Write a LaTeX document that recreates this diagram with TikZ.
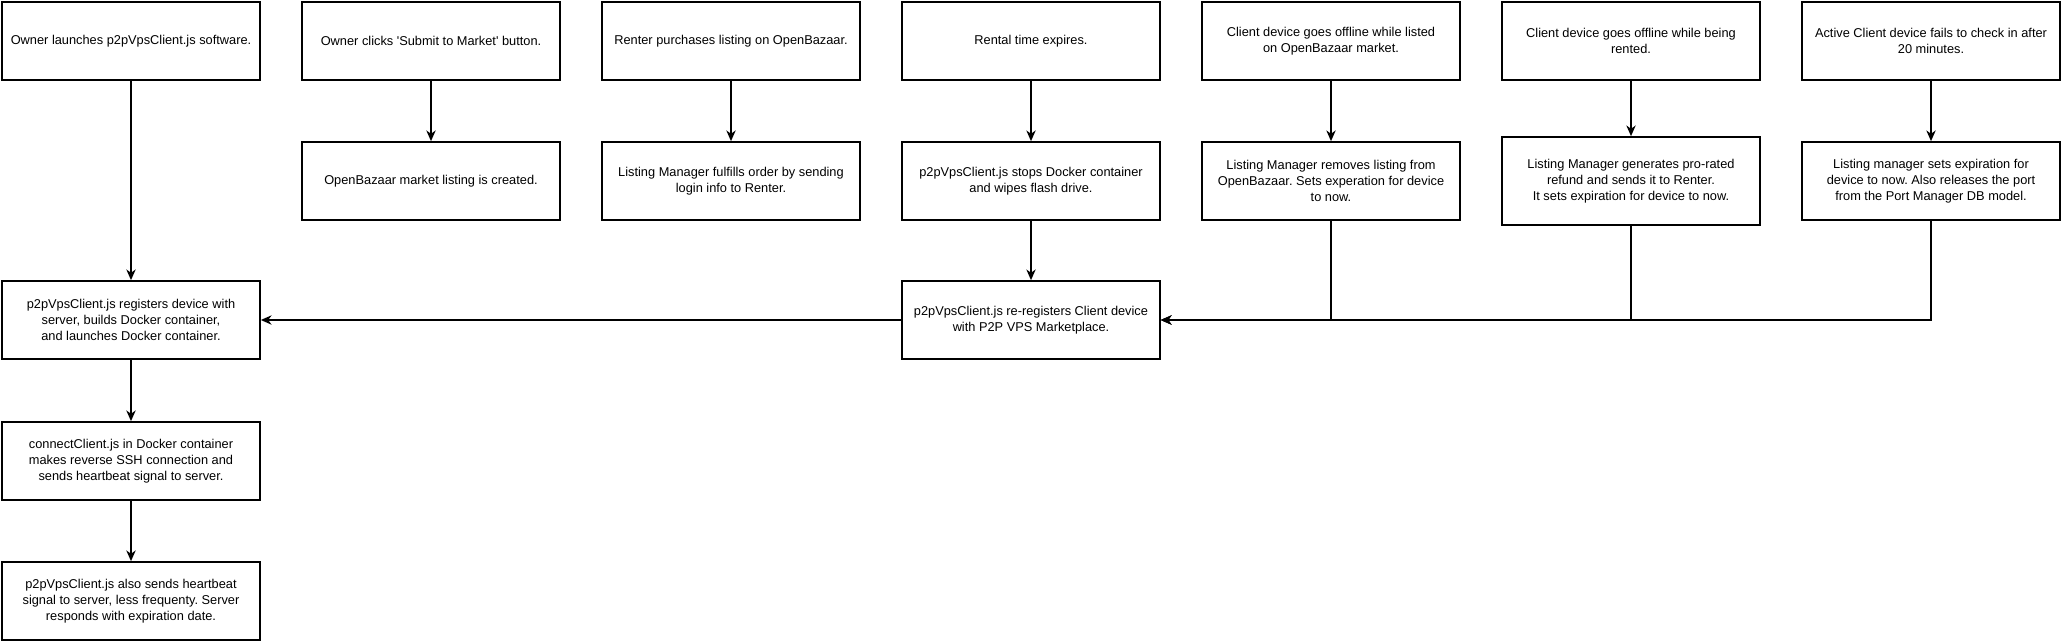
\documentclass[tikz,border=0pt]{standalone}
\usepackage{fontspec}
\setmainfont{Liberation Sans}
\usetikzlibrary{arrows.meta}
\frenchspacing

\begin{document}
\begin{tikzpicture}[x=0.75pt, y=-0.75pt,
	box/.style={draw, line width=1.3pt, minimum width=193.5pt, minimum height=58.5pt, align=center, inner sep=2pt, font=\fontsize{9.6}{12.2}\selectfont},
	flow/.style={-{Stealth[length=8pt, width=7pt, inset=2.5pt]}, line width=1.1pt}]
				\useasboundingbox (0,0) rectangle (2063,643);
				
				% top row
				\node [box] (launch) at (131,41) {Owner launches p2pVpsClient.js software.};
				\node [box] (submit) at (431,41) {Owner clicks \textquotesingle Submit to Market\textquotesingle{} button.};
				\node [box] (purchase) at (731,41) {Renter purchases listing on OpenBazaar.};
				\node [box] (expire) at (1031,41) {Rental time expires.};
				\node [box] (offlist) at (1331,41) {Client device goes offline while listed\\on OpenBazaar market.};
				\node [box] (offrent) at (1631,41) {Client device goes offline while being\\rented.};
				\node [box] (nocheck) at (1931,41) {Active Client device fails to check in after\\20 minutes.};
				
				% second row
				\node [box] (listed) at (431,181) {OpenBazaar market listing is created.};
				\node [box] (fulfill) at (731,181) {Listing Manager fulfills order by sending\\login info to Renter.};
				\node [box] (wipe) at (1031,181) {p2pVpsClient.js stops Docker container\\and wipes flash drive.};
				\node [box] (remove) at (1331,181) {Listing Manager removes listing from\\OpenBazaar. Sets experation for device\\to now.};
				\node [box, minimum height=66pt] (refund) at (1631,181) {Listing Manager generates pro-rated\\refund and sends it to Renter.\\It sets expiration for device to now.};
				\node [box] (release) at (1931,181) {Listing manager sets expiration for\\device to now. Also releases the port\\from the Port Manager DB model.};
				
				% client side
				\node [box] (register) at (131,320) {p2pVpsClient.js registers device with\\server, builds Docker container,\\and launches Docker container.};
				\node [box] (connect) at (131,461) {connectClient.js in Docker container\\makes reverse SSH connection and\\sends heartbeat signal to server.};
				\node [box] (heartbeat) at (131,601) {p2pVpsClient.js also sends heartbeat\\signal to server, less frequenty. Server\\responds with expiration date.};
				\node [box] (reregister) at (1031,320) {p2pVpsClient.js re-registers Client device\\with P2P VPS Marketplace.};
				
				\draw [flow] (launch) -- (register);
				\draw [flow] (register) -- (connect);
				\draw [flow] (connect) -- (heartbeat);
				\draw [flow] (submit) -- (listed);
				\draw [flow] (purchase) -- (fulfill);
				\draw [flow] (expire) -- (wipe);
				\draw [flow] (offlist) -- (remove);
				\draw [flow] (offrent) -- (refund);
				\draw [flow] (nocheck) -- (release);
				\draw [flow] (wipe) -- (reregister);
				\draw [flow] (reregister) -- (register);
				
				% offline and expired devices go back to the market
				\draw [flow] (remove) |- (reregister);
				\draw [flow] (refund) |- (reregister);
				\draw [flow] (release) |- (reregister);
\end{tikzpicture}
\end{document}
